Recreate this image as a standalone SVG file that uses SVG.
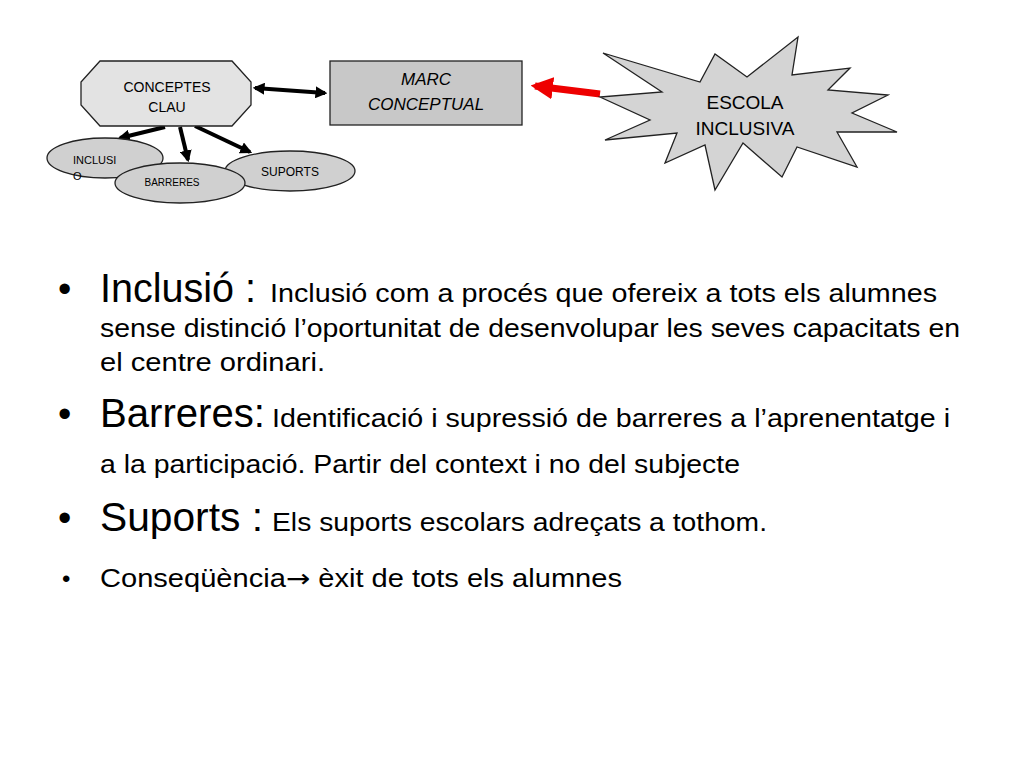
<svg xmlns="http://www.w3.org/2000/svg" width="1024" height="768" viewBox="0 0 1024 768">
<defs>
<style>
text{font-family:"Liberation Sans",Arial,sans-serif;fill:#000}
.n{stroke:#222;stroke-width:1.3}
.c{stroke:#000;stroke-width:4;fill:none}
</style>
<marker id="a" viewBox="0 0 10 10" refX="8" refY="5" markerWidth="3" markerHeight="3" orient="auto-start-reverse"><path d="M0,0L10,5L0,10z" fill="#000"/></marker>
<marker id="r" viewBox="0 0 10 10" refX="8" refY="5" markerWidth="3.2" markerHeight="3.2" orient="auto"><path d="M0,0L10,5L0,10z" fill="#e00"/></marker>
</defs>
<rect width="1024" height="768" fill="#fff"/>
<g id="connectors">
<line class="c" x1="255" y1="88" x2="325" y2="93" marker-start="url(#a)" marker-end="url(#a)"/>
<line class="c" x1="165" y1="127" x2="120" y2="138" marker-end="url(#a)"/>
<line class="c" x1="180" y1="127" x2="188" y2="160" marker-end="url(#a)"/>
<line class="c" x1="195" y1="126" x2="250" y2="152" marker-end="url(#a)"/>
<line x1="600" y1="94" x2="535" y2="86" stroke="#e00" stroke-width="7" marker-end="url(#r)"/>
</g>
<g id="escola">
<polygon class="n" fill="#d4d4d4" points="603,53 700,82 715,54 747,77 798,37 792,75 850,68 828,90 888,95 852,113 897,132 837,132 857,167 797,147 782,177 743,143 715,190 705,145 665,163 677,133 605,140 650,120 600,97 662,92"/>
<text x="745" y="109" font-size="19" text-anchor="middle">ESCOLA</text>
<text x="745" y="135" font-size="19" text-anchor="middle">INCLUSIVA</text>
</g>
<g id="marc">
<rect class="n" x="330" y="61" width="192" height="64" fill="#c8c8c8"/>
<text x="426" y="85" font-size="17" font-style="italic" text-anchor="middle">MARC</text>
<text x="426" y="110" font-size="17" font-style="italic" text-anchor="middle">CONCEPTUAL</text>
</g>
<g id="conceptes">
<polygon class="n" fill="#e3e3e3" points="100,61 232,61 251,82 251,105 232,126 100,126 81,105 81,82"/>
<text x="167" y="92" font-size="14" text-anchor="middle">CONCEPTES</text>
<text x="167" y="112" font-size="14" text-anchor="middle">CLAU</text>
</g>
<g id="inclusio">
<ellipse class="n" cx="105" cy="158" rx="58" ry="20" fill="#d0d0d0"/>
<text x="73" y="164" font-size="11">INCLUSI</text>
<text x="73" y="180" font-size="11">O</text>
</g>
<g id="suports">
<ellipse class="n" cx="290" cy="171" rx="65" ry="20" fill="#d0d0d0"/>
<text x="290" y="176" font-size="12" text-anchor="middle">SUPORTS</text>
</g>
<g id="barreres">
<ellipse class="n" cx="180" cy="183" rx="65" ry="20" fill="#d0d0d0"/>
<text x="172" y="186" font-size="10" text-anchor="middle">BARRERES</text>
</g>
<g id="body" font-size="25">
<text x="58" y="302" font-size="38">•</text>
<text x="100" y="302" font-size="40" textLength="156" lengthAdjust="spacingAndGlyphs">Inclusió :</text>
<text x="270" y="302" textLength="667" lengthAdjust="spacingAndGlyphs">Inclusió com a  procés que ofereix a tots els alumnes</text>
<text x="100" y="337" textLength="860" lengthAdjust="spacingAndGlyphs">sense distinció l’oportunitat de desenvolupar les seves capacitats en</text>
<text x="100" y="371" textLength="225" lengthAdjust="spacingAndGlyphs">el centre ordinari.</text>
<text x="58" y="427" font-size="38">•</text>
<text x="100" y="427" font-size="40" textLength="165" lengthAdjust="spacingAndGlyphs">Barreres:</text>
<text x="272" y="427" textLength="678" lengthAdjust="spacingAndGlyphs">Identificació i supressió de barreres a l’aprenentatge i</text>
<text x="100" y="473" textLength="640" lengthAdjust="spacingAndGlyphs">a la participació. Partir del context i no del subjecte</text>
<text x="58" y="531" font-size="38">•</text>
<text x="100" y="531" font-size="40" textLength="163" lengthAdjust="spacingAndGlyphs">Suports :</text>
<text x="272" y="531" textLength="495" lengthAdjust="spacingAndGlyphs">Els suports escolars adreçats a tothom.</text>
<text x="62" y="587" font-size="24">•</text>
<text x="100" y="587" textLength="522" lengthAdjust="spacingAndGlyphs">Conseqüència<tspan font-family="DejaVu Sans">→</tspan> èxit de tots els alumnes</text>
</g>
</svg>
